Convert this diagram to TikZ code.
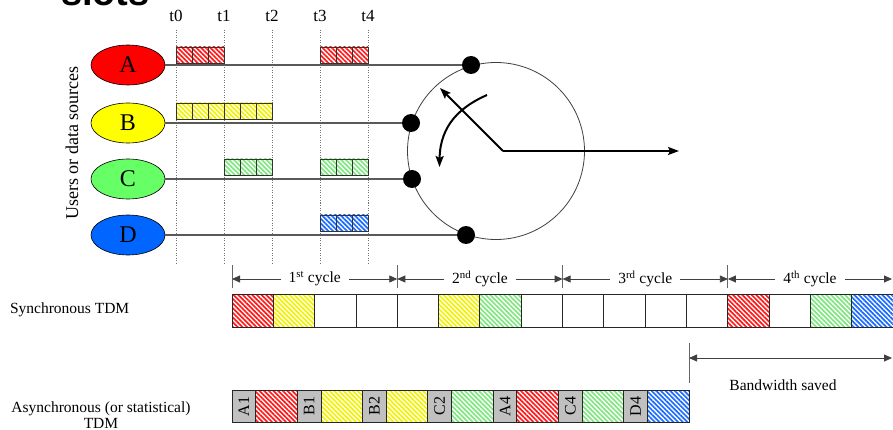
\documentclass[tikz,border=0pt]{standalone}
\usepackage{fontspec}
\usepackage{graphicx}
\setmainfont{Liberation Serif}
\newfontfamily\headfont{Liberation Sans}
\usetikzlibrary{patterns.meta,arrows.meta,shapes.geometric}

% source colours
\definecolor{userA}{HTML}{FF0000}
\definecolor{userB}{HTML}{FFFF00}
\definecolor{userC}{HTML}{66FF66}
\definecolor{userD}{HTML}{0066FF}
% stripe colours for the slot hatching
\definecolor{hatchA}{HTML}{FF1A1A}
\definecolor{hatchB}{HTML}{F2F200}
\definecolor{hatchC}{HTML}{80E680}
\definecolor{hatchD}{HTML}{1A6BFF}
\definecolor{wire}{HTML}{5A5A5A}
\definecolor{tagfill}{HTML}{C0C0C0}

\tikzset{
  every node/.style={inner sep=0pt, outer sep=0pt},
  smalltext/.style={font=\fontsize{15.5}{16}\selectfont},
  tlabel/.style={font=\fontsize{17}{17}\selectfont},
  user/.style={ellipse, draw=black, line width=0.6pt, minimum width=74pt,
    minimum height=40pt, font=\fontsize{24}{24}\selectfont},
  timeline/.style={draw=black!55, line width=0.6pt, dash pattern=on 1pt off 1.5pt},
  feed/.style={draw=wire, line width=1.2pt},
  contact/.style={circle, fill=black, minimum size=18pt},
  pointer/.style={draw=black, line width=2pt,
    -{Stealth[length=11pt,width=8pt,inset=2pt]}},
  stripes/.style={pattern={Lines[angle=-45,distance=3.3pt,line width=1.7pt]},
    pattern color=#1},
  hA/.style={stripes=hatchA}, hB/.style={stripes=hatchB},
  hC/.style={stripes=hatchC}, hD/.style={stripes=hatchD},
  hN/.style={fill=white},
  slotbox/.style={draw=black!80, line width=0.8pt, minimum width=16pt,
    minimum height=16pt, anchor=north west},
  bigslot/.style={draw=black!85, line width=0.9pt, minimum width=41.32pt,
    minimum height=32.5pt, anchor=north west},
  tagbox/.style={draw=black!85, fill=tagfill, line width=0.9pt, minimum width=23.7pt,
    minimum height=32.5pt, anchor=north west, font=\fontsize{16}{16}\selectfont},
  databox/.style={draw=black!85, line width=0.9pt, minimum width=41.6pt,
    minimum height=32.5pt, anchor=north west},
  dimline/.style={draw=black!75, line width=0.8pt,
    {Triangle[length=8pt,width=7pt]}-{Triangle[length=8pt,width=7pt]}},
  ticker/.style={draw=black!60, line width=0.9pt},
  cyclelabel/.style={smalltext, fill=white, inner xsep=8pt, inner ysep=2pt},
}

\begin{document}
\begin{tikzpicture}[x=1pt, y=-1pt]
\path[use as bounding box, fill=white] (0,0) rectangle (893,430);

% heading (its upper part lies above the page)
\node[anchor=base west, font=\headfont\bfseries\fontsize{38}{38}\selectfont]
  (heading) at (61,6) {slots};

% time marks
\foreach \i/\x in {0/176,1/224,2/272,3/320,4/368} {
  \node[tlabel] (t\i) at (\x,16) {t\i};
  \draw[timeline] (\x,30) -- (\x,263);
}

% sources
\node[user, fill=userA] (A) at (128,65) {A};
\node[user, fill=userB] (B) at (128,123) {B};
\node[user, fill=userC] (C) at (128,179) {C};
\node[user, fill=userD] (D) at (128,235) {D};
\node[rotate=90, font=\fontsize{18}{18}\selectfont] (users) at (72,143)
  {Users or data sources};

% per-source slots
\foreach \x [count=\k] in {176,192,208,320,336,352}
  \node[slotbox, hA] (a\k) at (\x,47) {};
\foreach \x [count=\k] in {176,192,208,224,240,256}
  \node[slotbox, hB] (b\k) at (\x,103) {};
\foreach \x [count=\k] in {224,240,256,320,336,352}
  \node[slotbox, hC] (c\k) at (\x,159) {};
\foreach \x [count=\k] in {320,336,352}
  \node[slotbox, hD] (d\k) at (\x,215) {};

% rotary switch
\node[circle, draw=black!75, line width=0.8pt, minimum size=177pt] (switch) at (496,151) {};
\node[contact] (kA) at (471,65) {};
\node[contact] (kB) at (411,123) {};
\node[contact] (kC) at (412,179) {};
\node[contact] (kD) at (466,235) {};
\draw[feed] (A) -- (kA);
\draw[feed] (B) -- (kB);
\draw[feed] (C) -- (kC);
\draw[feed] (D) -- (kD);

\coordinate (hub) at (503,151);
\coordinate (arm) at (440,88);
\coordinate (out) at (679,151);
\coordinate (turnS) at (487,95);
\coordinate (turnE) at (439.5,167);
\draw[pointer] (hub) -- (arm);
\draw[pointer] (hub) -- (out);
\draw[pointer] (turnS) .. controls (462,106) and (440,124) .. (turnE);

% cycle dimensions
\foreach \i/\x in {0/232,1/397.3,2/562.6,3/727.9} {
  \coordinate (cy\i) at (\x,279);
  \draw[ticker] (\x,265) -- (\x,288);
}
\coordinate (cy4) at (892,279);
\draw[dimline] (cy0) -- node[cyclelabel] (lab1) {1\textsuperscript{st} cycle} (cy1);
\draw[dimline] (cy1) -- node[cyclelabel] (lab2) {2\textsuperscript{nd} cycle} (cy2);
\draw[dimline] (cy2) -- node[cyclelabel] (lab3) {3\textsuperscript{rd} cycle} (cy3);
\draw[dimline] (cy3) -- node[cyclelabel] (lab4) {4\textsuperscript{th} cycle} (cy4);

% synchronous frame
\node[smalltext, anchor=west] (synclab) at (10,310) {Synchronous TDM};
\foreach \s [count=\k] in {A,B,N,N, N,B,C,N, N,N,N,N, A,N,C,D}
  \node[bigslot, h\s] (s\k) at ({232+(\k-1)*41.32},294.5) {};

% asynchronous frame
\node[smalltext, align=center] (asynclab) at (101,415)
  {Asynchronous (or statistical)\\TDM};
\foreach \lab/\c [count=\k] in {A1/A,B1/B,B2/B,C2/C,A4/A,C4/C,D4/D} {
  \node[tagbox] (g\k) at ({232+(\k-1)*65.3},390) {\rotatebox{90}{\lab}};
  \node[databox, h\c] (p\k) at (g\k.north east) {};
}

% saved bandwidth
\coordinate (bw0) at (689,358);
\coordinate (bw1) at (892,358);
\draw[ticker] (689,343) -- (689,383);
\draw[dimline] (bw0) -- (bw1);
\node[smalltext] (bwlab) at (783,385) {Bandwidth saved};
\end{tikzpicture}
\end{document}
